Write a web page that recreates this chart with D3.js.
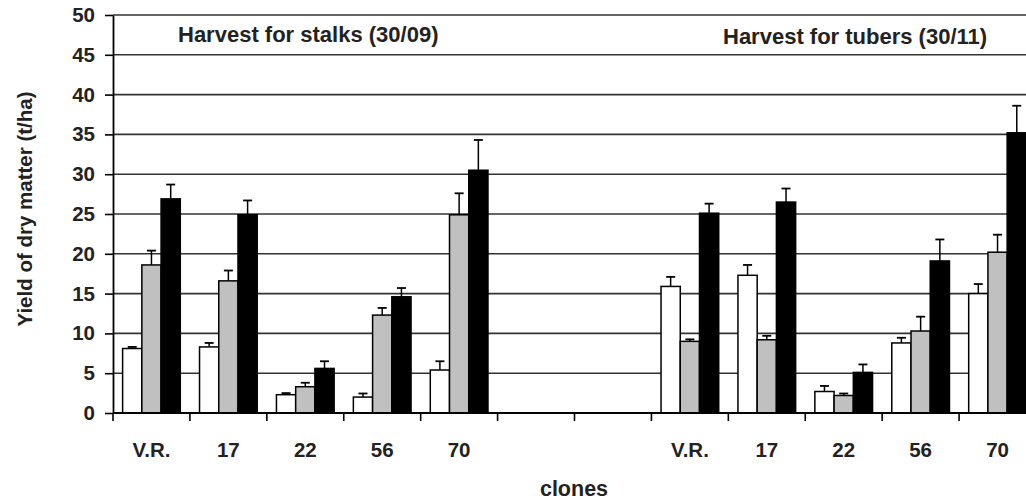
<!DOCTYPE html>
<html>
<head>
<meta charset="utf-8">
<script src="https://cdn.jsdelivr.net/npm/d3@7"></script>
<style>
  body { margin: 0; overflow: hidden; background: #fff; }
  text { font-family: "Liberation Sans", Arial, sans-serif; font-weight: bold; fill: #222; }
</style>
</head>
<body>
<div class="chart-container"></div>
<script>
var margin = {top: 15, right: -10, bottom: 87, left: 113};
var width = 1026 - margin.left - margin.right;
var height = 500 - margin.top - margin.bottom;

// two harvests, five clones each, two empty slots in between
var slots = ['V.R.', '17', '22', '56', '70', '', '', 'V.R.', '17', '22', '56', '70'];

var whiteVals = [8.1, 8.3, 2.3, 2.0, 5.4, null, null, 15.9, 17.3, 2.7, 8.8, 15.0];
var whiteErr  = [0.2, 0.5, 0.2, 0.45, 1.1, null, null, 1.2, 1.3, 0.7, 0.65, 1.2];
var grayVals  = [18.6, 16.6, 3.3, 12.3, 24.9, null, null, 9.0, 9.2, 2.2, 10.3, 20.2];
var grayErr   = [1.8, 1.3, 0.5, 0.9, 2.7, null, null, 0.25, 0.5, 0.25, 1.8, 2.2];
var blackVals = [26.9, 24.9, 5.6, 14.6, 30.5, null, null, 25.1, 26.5, 5.1, 19.1, 35.2];
var blackErr  = [1.8, 1.8, 0.9, 1.1, 3.8, null, null, 1.2, 1.7, 1.0, 2.7, 3.4];

var yTicks = [0, 5, 10, 15, 20, 25, 30, 35, 40, 45, 50];

var series = [
  {key: 'white', fill: '#ffffff', vals: whiteVals, err: whiteErr},
  {key: 'gray', fill: '#c0c0c0', vals: grayVals, err: grayErr},
  {key: 'black', fill: '#000000', vals: blackVals, err: blackErr}
];

var svg = d3.select('.chart-container').append('svg')
  .attr('width', 1026)
  .attr('height', 500);

var x = d3.scaleBand()
  .domain(d3.range(slots.length))
  .range([margin.left, margin.left + width])
  .paddingInner(0)
  .paddingOuter(0);

var inner = d3.scaleBand()
  .domain(series.map(s => s.key))
  .range([x.bandwidth() / 8, x.bandwidth() * 7 / 8]);

var y = d3.scaleLinear()
  .domain([0, 50])
  .range([margin.top + height, margin.top]);

// gridlines
svg.append('g')
  .selectAll('line')
  .data(yTicks.filter(d => d > 0))
  .enter().append('line')
    .attr('x1', margin.left)
    .attr('x2', margin.left + width)
    .attr('y1', d => y(d))
    .attr('y2', d => y(d))
    .attr('stroke', '#333')
    .attr('stroke-width', 1.6);

// bars
var groups = svg.append('g')
  .selectAll('g')
  .data(series)
  .enter().append('g');

var bars = groups.selectAll('g')
  .data(s => s.vals.map((v, i) => ({s: s, i: i, v: v, e: s.err[i]})).filter(d => d.v !== null))
  .enter().append('g');

bars.append('line')
  .attr('x1', d => x(d.i) + inner(d.s.key) + inner.bandwidth() / 2)
  .attr('x2', d => x(d.i) + inner(d.s.key) + inner.bandwidth() / 2)
  .attr('y1', d => y(d.v))
  .attr('y2', d => y(d.v + d.e))
  .attr('stroke', '#000')
  .attr('stroke-width', 1.5);

bars.append('line')
  .attr('x1', d => x(d.i) + inner(d.s.key) + inner.bandwidth() / 2 - 4.5)
  .attr('x2', d => x(d.i) + inner(d.s.key) + inner.bandwidth() / 2 + 4.5)
  .attr('y1', d => y(d.v + d.e))
  .attr('y2', d => y(d.v + d.e))
  .attr('stroke', '#000')
  .attr('stroke-width', 1.8);

bars.append('rect')
  .attr('x', d => x(d.i) + inner(d.s.key))
  .attr('y', d => y(d.v))
  .attr('width', inner.bandwidth())
  .attr('height', d => y(0) - y(d.v))
  .attr('fill', d => d.s.fill)
  .attr('stroke', '#000')
  .attr('stroke-width', 1.5);

// y axis
var gY = svg.append('g')
  .attr('transform', `translate(${margin.left},0)`)
  .call(d3.axisLeft(y).tickValues(yTicks).tickSize(8).tickSizeOuter(0).tickPadding(10));
gY.select('.domain').attr('stroke', '#000').attr('stroke-width', 1.8);
gY.selectAll('.tick line').attr('stroke', '#000').attr('stroke-width', 1.6);
gY.selectAll('text')
  .attr('font-size', '20.5px')
  .attr('font-family', null)
  .attr('fill', null);

// x axis: ticks on slot boundaries, labels at slot centres
var gX = svg.append('g')
  .attr('transform', `translate(0,${y(0)})`);
gX.append('line')
  .attr('x1', margin.left)
  .attr('x2', margin.left + width)
  .attr('stroke', '#000')
  .attr('stroke-width', 1.8);
gX.selectAll('.bound')
  .data(d3.range(slots.length + 1))
  .enter().append('line')
    .attr('class', 'bound')
    .attr('x1', d => margin.left + d * x.step())
    .attr('x2', d => margin.left + d * x.step())
    .attr('y1', 0)
    .attr('y2', 8)
    .attr('stroke', '#000')
    .attr('stroke-width', 1.6);
gX.selectAll('.lab')
  .data(slots)
  .enter().append('text')
    .attr('class', 'lab')
    .attr('x', (d, i) => x(i) + x.bandwidth() / 2)
    .attr('y', 44)
    .attr('text-anchor', 'middle')
    .attr('font-size', '20.5px')
    .text(d => d);

// titles
svg.append('text')
  .attr('transform', 'translate(32,209) rotate(-90)')
  .attr('text-anchor', 'middle')
  .attr('font-size', '20.5px')
  .text('Yield of dry matter (t/ha)');

svg.append('text')
  .attr('x', 574)
  .attr('y', 496)
  .attr('text-anchor', 'middle')
  .attr('font-size', '21.5px')
  .text('clones');

svg.append('text')
  .attr('x', 178)
  .attr('y', 41.5)
  .attr('font-size', '22px')
  .text('Harvest for stalks (30/09)');

svg.append('text')
  .attr('x', 723)
  .attr('y', 44)
  .attr('font-size', '22px')
  .text('Harvest for tubers (30/11)');
</script>
</body>
</html>
